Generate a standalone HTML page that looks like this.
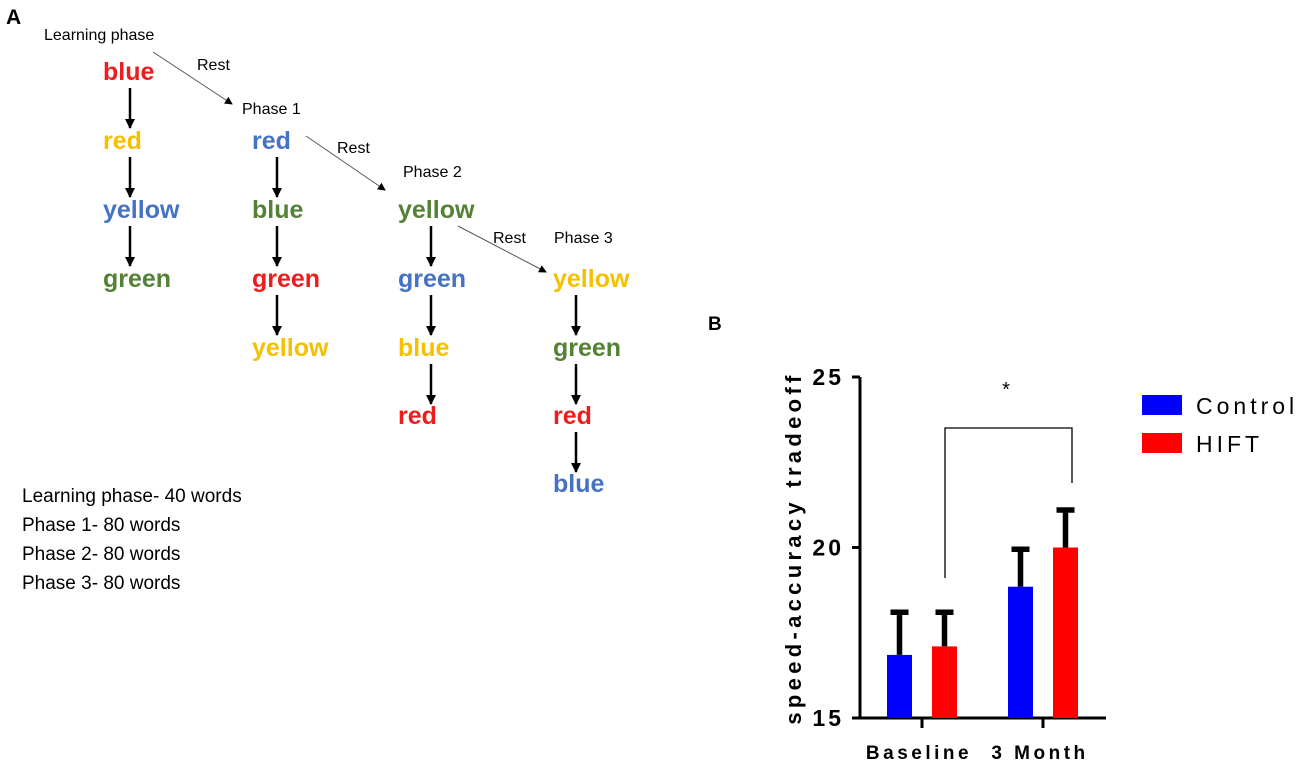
<!DOCTYPE html>
<html><head><meta charset="utf-8"><style>
body{margin:0;background:#fff;width:1300px;height:763px;overflow:hidden;font-family:"Liberation Sans",sans-serif}
svg{position:absolute;left:0;top:0}
.w{font-family:"Liberation Sans","DejaVu Sans",sans-serif;font-weight:bold;font-size:25px}
.t{font-size:16px;fill:#000}
</style></head><body>
<svg width="1300" height="763">
<defs><marker id="ah" markerWidth="10" markerHeight="10" refX="9" refY="5" orient="auto" markerUnits="userSpaceOnUse"><path d="M0,0 L10,5 L0,10z" fill="#000"/></marker>
<marker id="ah2" markerWidth="8" markerHeight="8" refX="7" refY="4" orient="auto" markerUnits="userSpaceOnUse"><path d="M0,0 L8,4 L0,8z" fill="#000"/></marker></defs>
<g id="panelA"></g>
<g id="panelB"></g>
</svg>
<script>
const NS='http://www.w3.org/2000/svg';
function mk(p,tag,attrs,txt){const e=document.createElementNS(NS,tag);for(const k in attrs)e.setAttribute(k,attrs[k]);if(txt!==undefined)e.textContent=txt;p.appendChild(e);return e;}
const A=document.getElementById('panelA');
const C={r:'#ee1c1c',y:'#f5c000',b:'#4472c4',g:'#548235'};
const cols=[
 {x:103,ax:130,words:[['blue','r'],['red','y'],['yellow','b'],['green','g']]},
 {x:252,ax:277,words:[['red','b'],['blue','g'],['green','r'],['yellow','y']]},
 {x:398,ax:431,words:[['yellow','g'],['green','b'],['blue','y'],['red','r']]},
 {x:553,ax:576,words:[['yellow','y'],['green','g'],['red','r'],['blue','b']]}];
const rowY=[80,149,218,287,356,424,492];
cols.forEach((c,ci)=>{c.words.forEach((w,i)=>{
 const t=mk(A,'text',{x:c.x,y:rowY[ci+i],class:'w',fill:C[w[1]]},w[0]);
 
 
 if(i<3){const l=mk(A,'line',{x1:c.ax,y1:rowY[ci+i]+8,x2:c.ax,y2:rowY[ci+i]+48,stroke:'#000','stroke-width':2.5,'marker-end':'url(#ah)'});
 
 }
});});
[['A',6,24,'bold'],['Learning phase',44,40],['Rest',197,70],['Phase 1',242,114],['Rest',337,153],['Phase 2',403,177],['Rest',493,243],['Phase 3',554,243]].forEach(d=>{
 const t=mk(A,'text',{x:d[1],y:d[2],class:'t'},d[0]);if(d[3]){t.setAttribute('style','font-weight:bold;font-size:21px');}
 
 });
[[153,52,232,104],[306,136,385,190],[458,226,546,272]].forEach(s=>{
 const l=mk(A,'line',{x1:s[0],y1:s[1],x2:s[2],y2:s[3],stroke:'#555','stroke-width':1,'marker-end':'url(#ah2)'});
 
 });
['Learning phase- 40 words','Phase 1- 80 words','Phase 2- 80 words','Phase 3- 80 words'].forEach((s,i)=>{
 const t=mk(A,'text',{x:22,y:502+i*29,'font-size':19,fill:'#000','font-family':'"Liberation Sans",sans-serif'},s);
 
 });

// Panel B
const categories=['Baseline','3 Month'];
const series=['Control','HIFT'];
const controlVals=[16.85,18.85];
const hiftVals=[17.1,20.0];
const controlErr=[1.25,1.1];
const hiftErr=[1.0,1.1];
const yTicks=[15,20,25];
const B=document.getElementById('panelB');
const y0=718,yTop=377,vmin=15,vmax=25;
const ys=v=>y0-(v-vmin)/(vmax-vmin)*(y0-yTop);
const axX=860, catX=[922,1043], bw=25, off=[-22.5,22.5];
const colors=['#0000ff','#ff0000'];
let e=mk(B,'text',{'font-size':22,'font-weight':'bold','letter-spacing':'4.3','text-anchor':'middle',transform:'translate(801,548) rotate(-90)',x:0,y:0},'speed-accuracy tradeoff');

e=mk(A,'text',{x:708,y:330,'font-size':19,'font-weight':'bold'},'B');

e=mk(B,'line',{x1:axX,y1:ys(25),x2:axX,y2:y0,stroke:'#000','stroke-width':3});

e=mk(B,'line',{x1:axX-8,y1:y0,x2:1106,y2:y0,stroke:'#000','stroke-width':3});

yTicks.forEach(v=>{mk(B,'line',{x1:axX-8,y1:ys(v),x2:axX,y2:ys(v),stroke:'#000','stroke-width':3});
 e=mk(B,'text',{x:844,y:ys(v)+8,'font-size':23,'font-weight':'bold','text-anchor':'end','letter-spacing':'3'},String(v));
 });
categories.forEach((c,i)=>{mk(B,'line',{x1:catX[i],y1:y0,x2:catX[i],y2:y0+10,stroke:'#000','stroke-width':3});
 e=mk(B,'text',{x:catX[i]-3,y:759,'font-size':19,'font-weight':'bold','text-anchor':'middle','letter-spacing':'3.5'},c);
 });
[controlVals,hiftVals].forEach((vals,s)=>{const errs=s?hiftErr:controlErr;
 vals.forEach((v,i)=>{const cx=catX[i]+off[s];
  const top=ys(v+errs[i]);
  const el=mk(B,'path',{d:`M${cx},${ys(v)} V${top} M${cx-9},${top} H${cx+9}`,stroke:'#000','stroke-width':5.5,fill:'none'});
  
  const r=mk(B,'rect',{x:cx-bw/2,y:ys(v),width:bw,height:y0-ys(v),fill:colors[s]});
  });});
e=mk(B,'path',{d:'M945,578 V428 H1072 V483',stroke:'#000','stroke-width':1.3,fill:'none'});

e=mk(B,'text',{x:1006,y:396,'font-size':20,'text-anchor':'middle'},'*');

series.forEach((s,i)=>{const ly=395+i*38;
 e=mk(B,'rect',{x:1142,y:ly,width:40,height:20,fill:colors[i]});
 
 e=mk(B,'text',{x:1196,y:ly+19,'font-size':23,'letter-spacing':'4'},s);
 });
</script>
</body></html>
